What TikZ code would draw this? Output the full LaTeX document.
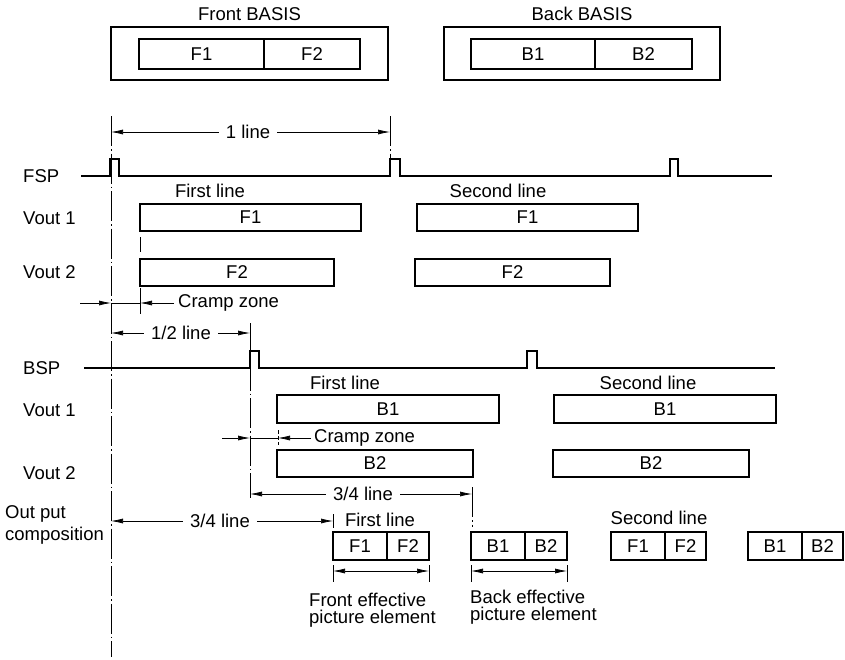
\documentclass[tikz,border=0pt]{standalone}
\usepackage{fontspec}
\setmainfont{Liberation Sans}
\usetikzlibrary{arrows.meta,positioning}

\tikzset{
  lbl/.style={font=\fontsize{18.5}{17}\selectfont,inner sep=0pt},
  dimlbl/.style={lbl,inner xsep=7pt},
  cell/.style={draw,line width=1.1pt,inner sep=0pt,outer sep=0pt,font=\fontsize{18.5}{17}\selectfont},
  dim/.style={line width=.7pt,-{Latex[length=12pt,width=5pt]}},
  dimboth/.style={line width=.7pt,{Latex[length=12pt,width=5pt]}-{Latex[length=12pt,width=5pt]}},
  axis/.style={line width=.9pt,dash pattern=on 30pt off 3pt on 1.5pt off 3pt},
  sig/.style={line width=1.1pt},
}

\begin{document}
\begin{tikzpicture}[x=1pt,y=-1pt]
\useasboundingbox (0,0) rectangle (845,659);
% BASIS boxes
\node[cell,minimum width=277pt,minimum height=53pt,anchor=north west] (fb) at (111,27) {};
\node[lbl,above=6pt of fb] (fbt) {Front BASIS};
\node[cell,minimum width=125pt,minimum height=30pt,anchor=north west] (fb1) at (139,39) {F1};
\node[cell,minimum width=96pt,minimum height=30pt,anchor=west] (fb2) at (fb1.east) {F2};
\node[cell,minimum width=276pt,minimum height=53pt,anchor=north west] (bb) at (444,27) {};
\node[lbl,above=6pt of bb] (bbt) {Back BASIS};
\node[cell,minimum width=124pt,minimum height=30pt,anchor=north west] (bb1) at (471,39) {B1};
\node[cell,minimum width=97pt,minimum height=30pt,anchor=west] (bb2) at (bb1.east) {B2};

% reference lines
\coordinate (a0) at (111,116); \coordinate (a1) at (111,657);
\draw[axis] (a0) -- (a1);
\coordinate (p0) at (390,116); \coordinate (p1) at (390,159);
\draw[axis] (p0) -- (p1);
\coordinate (h0) at (250,323); \coordinate (h1) at (250,498);
\draw[axis] (h0) -- (h1);
\coordinate (q0) at (472,487); \coordinate (q1) at (472,527);
\draw[axis,line width=.7pt] (q0) -- (q1);

% front side
\node[dimlbl] (oneline) at (248,132) {1 line};
\coordinate (ol) at (111,132); \coordinate (or) at (390,132);
\draw[dim] (oneline.west) -- (ol);
\draw[dim] (oneline.east) -- (or);
\node[lbl,anchor=west] (fsp) at (23,176) {FSP};
\draw[sig] (81,176) -- (110,176) -- (110,159) -- (119,159) -- (119,176)
  -- (390,176) -- (390,159) -- (400,159) -- (400,176)
  -- (670,176) -- (670,159) -- (678,159) -- (678,176) -- (772,176);
\node[lbl] (ffl) at (210,191) {First line};
\node[lbl] (fsl) at (498,191) {Second line};
\node[lbl,anchor=west] (fv1) at (23,218) {Vout 1};
\node[cell,minimum width=221pt,minimum height=27pt,anchor=north west] (fv1a) at (140,204) {F1};
\node[cell,minimum width=221pt,minimum height=27pt,anchor=north west] (fv1b) at (417,204) {F1};
\coordinate (t0) at (140,237); \coordinate (t1) at (140,252);
\draw[line width=.8pt] (t0) -- (t1);
\node[lbl,anchor=west] (fv2) at (23,272) {Vout 2};
\node[cell,minimum width=194pt,minimum height=27pt,anchor=north west] (fv2a) at (140,259) {F2};
\node[cell,minimum width=195pt,minimum height=27pt,anchor=north west] (fv2b) at (415,259) {F2};
% cramp zone (front)
\node[lbl,anchor=west] (fcz) at (178,303) {Cramp zone};
\coordinate (c0) at (80,303); \coordinate (c1) at (111,303); \coordinate (c2) at (140,303);
\coordinate (c3) at (140,288); \coordinate (c4) at (140,314);
\draw[line width=.8pt] (c3) -- (c4);
\draw[dim] (c0) -- (c1);
\draw[line width=.6pt] (c1) -- (c2);
\draw[dim] ([xshift=-4pt]fcz.west) -- (c2);
\node[dimlbl] (halfline) at (181,333) {1/2 line};
\coordinate (hl) at (111,333); \coordinate (hr) at (250,333);
\draw[dim] (halfline.west) -- (hl);
\draw[dim] (halfline.east) -- (hr);

% back side
\node[lbl,anchor=west] (bsp) at (23,368) {BSP};
\draw[sig] (84,368) -- (250,368) -- (250,351) -- (259,351) -- (259,368)
  -- (527,368) -- (527,351) -- (537,351) -- (537,368) -- (775,368);
\node[lbl] (bfl) at (345,383) {First line};
\node[lbl] (bsl) at (648,383) {Second line};
\node[lbl,anchor=west] (bv1) at (23,410) {Vout 1};
\node[cell,minimum width=222pt,minimum height=28pt,anchor=north west] (bv1a) at (277,395) {B1};
\node[cell,minimum width=222pt,minimum height=28pt,anchor=north west] (bv1b) at (554,395) {B1};
% cramp zone (back)
\node[lbl,anchor=west] (bcz) at (314,438) {Cramp zone};
\coordinate (d0) at (222,438); \coordinate (d1) at (250,438); \coordinate (d2) at (278,438);
\coordinate (d3) at (278,430); \coordinate (d4) at (278,445);
\draw[line width=.8pt,dash pattern=on 4pt off 2pt] (d3) -- (d4);
\draw[dim] (d0) -- (d1);
\draw[line width=.6pt] (d1) -- (d2);
\draw[dim] ([xshift=-3pt]bcz.west) -- (d2);
\node[lbl,anchor=west] (bv2) at (23,473) {Vout 2};
\node[cell,minimum width=196pt,minimum height=27pt,anchor=north west] (bv2a) at (277,450) {B2};
\node[cell,minimum width=196pt,minimum height=27pt,anchor=north west] (bv2b) at (553,450) {B2};
\node[dimlbl] (tqa) at (363,494) {3/4 line};
\coordinate (tal) at (250,494); \coordinate (tar) at (472,494);
\draw[dim] (tqa.west) -- (tal);
\draw[dim] (tqa.east) -- (tar);

% output composition
\node[lbl,anchor=west,align=left] (outc) at (5,525) {Out put\\[4pt]composition};
\node[dimlbl] (tqb) at (220,521) {3/4 line};
\coordinate (tbl) at (111,521); \coordinate (tbr) at (333,521);
\coordinate (s0) at (333,514); \coordinate (s1) at (333,528);
\draw[line width=.8pt] (s0) -- (s1);
\draw[dim] (tqb.west) -- (tbl);
\draw[dim] (tqb.east) -- (tbr);
\node[lbl] (ofl) at (380,520) {First line};
\node[lbl] (osl) at (659,518) {Second line};
\node[cell,minimum width=54pt,minimum height=28pt,anchor=north west] (of1) at (333,532) {F1};
\node[cell,minimum width=42pt,minimum height=28pt,anchor=west] (of2) at (of1.east) {F2};
\node[cell,minimum width=54pt,minimum height=28pt,anchor=north west] (ob1) at (471,532) {B1};
\node[cell,minimum width=42pt,minimum height=28pt,anchor=west] (ob2) at (ob1.east) {B2};
\node[cell,minimum width=54pt,minimum height=28pt,anchor=north west] (sf1) at (611,532) {F1};
\node[cell,minimum width=41pt,minimum height=28pt,anchor=west] (sf2) at (sf1.east) {F2};
\node[cell,minimum width=54pt,minimum height=28pt,anchor=north west] (sb1) at (748,532) {B1};
\node[cell,minimum width=41pt,minimum height=28pt,anchor=west] (sb2) at (sb1.east) {B2};

% effective picture elements
\coordinate (e0) at (333,565); \coordinate (e1) at (333,582);
\coordinate (e2) at (429,565); \coordinate (e3) at (429,582);
\coordinate (e4) at (471,565); \coordinate (e5) at (471,582);
\coordinate (e6) at (567,565); \coordinate (e7) at (567,582);
\draw[line width=.8pt] (e0) -- (e1) (e2) -- (e3) (e4) -- (e5) (e6) -- (e7);
\coordinate (fa) at (333,571); \coordinate (fz) at (429,571);
\coordinate (ba) at (471,571); \coordinate (bz) at (567,571);
\draw[dimboth] (fa) -- (fz);
\draw[dimboth] (ba) -- (bz);
\node[lbl,anchor=north west,align=left] (fep) at (309,593) {Front effective\\picture element};
\node[lbl,anchor=north west,align=left] (bep) at (470,590) {Back effective\\picture element};
\end{tikzpicture}
\end{document}
